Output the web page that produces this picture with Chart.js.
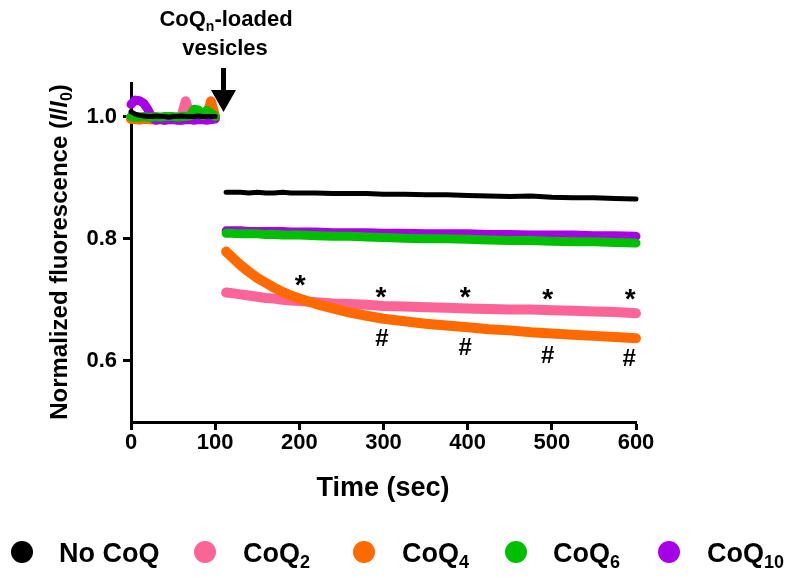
<!DOCTYPE html>
<html>
<head>
<meta charset="utf-8">
<script src="https://cdn.jsdelivr.net/npm/chart.js@4/dist/chart.umd.min.js"></script>
<style>
  html, body { margin:0; padding:0; background:#fff; }
  #wrap { width:800px; height:578px; }
</style>
</head>
<body>
<div id="wrap"><canvas id="c" width="800" height="578"></canvas></div>
<script>
// time points (sec)
const preT  = [0,5,10,15,20,25,30,35,40,45,50,55,60,65,70,75,80,85,90,95,100];
const postT = [113,120,130,140,150,160,170,180,190,200,220,240,260,280,300,325,350,375,400,425,450,475,500,525,550,575,600];

// normalized fluorescence before vesicle addition
const noCoqPre = [1.008,1.004,1.002,1.001,1.0,1.0,1.001,1.0,1.0,0.999,1.0,1.0,1.001,1.0,1.0,1.0,1.001,1.0,1.0,1.0,1.0];
const coq2Pre  = [0.998,0.998,0.999,0.998,0.998,0.999,0.998,0.998,0.999,0.998,0.998,0.999,1.0,1.025,1.0,0.998,0.998,0.999,0.998,0.998,0.998];
const coq4Pre  = [0.996,0.996,0.995,0.996,0.996,0.995,0.996,0.996,0.995,0.996,0.996,0.996,0.995,0.996,0.996,0.996,0.996,0.997,0.998,1.025,1.0];
const coq6Pre  = [1.0,0.999,0.999,1.0,0.999,0.999,1.0,0.999,1.0,1.0,1.0,0.999,1.0,1.0,1.001,1.012,1.011,1.002,1.01,1.006,1.0];
const coq10Pre = [1.02,1.027,1.026,1.022,1.012,0.998,0.994,0.995,0.994,0.995,0.995,0.994,0.994,0.995,0.995,0.994,0.995,0.995,0.994,0.995,0.996];

// after vesicle addition
const noCoqPost = [0.876,0.876,0.876,0.875,0.876,0.875,0.875,0.876,0.875,0.875,0.875,0.874,0.874,0.874,0.873,0.873,0.872,0.872,0.871,0.870,0.869,0.870,0.868,0.867,0.867,0.866,0.865];
const coq2Post  = [0.712,0.711,0.709,0.707,0.705,0.703,0.702,0.700,0.699,0.698,0.696,0.694,0.693,0.692,0.690,0.689,0.688,0.687,0.686,0.685,0.684,0.684,0.683,0.682,0.681,0.680,0.678];
const coq4Post  = [0.779,0.770,0.757,0.746,0.736,0.728,0.720,0.713,0.707,0.702,0.693,0.686,0.679,0.674,0.669,0.665,0.661,0.658,0.655,0.652,0.650,0.647,0.645,0.643,0.641,0.639,0.637];
const coq6Post  = [0.809,0.809,0.808,0.808,0.808,0.807,0.807,0.806,0.806,0.806,0.805,0.804,0.804,0.803,0.802,0.801,0.800,0.800,0.799,0.798,0.797,0.797,0.796,0.795,0.795,0.794,0.793];
const coq10Post = [0.813,0.813,0.813,0.812,0.812,0.812,0.812,0.812,0.811,0.811,0.811,0.810,0.810,0.810,0.809,0.809,0.808,0.808,0.808,0.807,0.807,0.806,0.806,0.806,0.805,0.805,0.804];

// significance marks
const starX = [201,297,397,495,593];
const starY = [0.730,0.710,0.711,0.707,0.707];
const hashX = [298,397,495,592];
const hashY = [0.636,0.620,0.607,0.603];

const xTicks = [0,100,200,300,400,500,600];
const yTicks = [0.6,0.8,1.0];

const FONT = "'Liberation Sans', Arial, sans-serif";
const COLORS = { noCoq:"#000000", coq2:"#fb6496", coq4:"#ff6a00", coq6:"#00bf00", coq10:"#a800e6" };

function series(pre, post){
  return preT.map((t,i)=>({x:t, y:pre[i]}))
    .concat([{x:106, y:null}])
    .concat(postT.map((t,i)=>({x:t, y:post[i]})));
}
function ds(label, pre, post, color, w){
  return { label, data:series(pre, post), borderColor:color, backgroundColor:color,
    borderWidth:w, pointRadius:0, tension:0, spanGaps:false,
    borderCapStyle:"round", borderJoinStyle:"round", clip:false };
}

const extras = {
  id:"extras",
  afterDatasetsDraw(chart){
    const ctx = chart.ctx, xs = chart.scales.x, ys = chart.scales.y;
    ctx.save();
    ctx.fillStyle = "#000";
    ctx.textAlign = "center";
    ctx.textBaseline = "middle";
    ctx.font = "bold 28px " + FONT;
    starX.forEach((x,i)=> ctx.fillText("*", xs.getPixelForValue(x), ys.getPixelForValue(starY[i]) + 5));
    ctx.font = "bold 24px " + FONT;
    hashX.forEach((x,i)=> ctx.fillText("#", xs.getPixelForValue(x), ys.getPixelForValue(hashY[i])));
    ctx.restore();
  },
  afterDraw(chart){
    const ctx = chart.ctx;
    ctx.save();
    ctx.fillStyle = "#000";
    ctx.textBaseline = "alphabetic";

    // draws a run of [text, font, dy] pieces starting at x
    const run = (parts, x, y) => {
      parts.forEach(p => { ctx.font = p[1]; ctx.fillText(p[0], x, y + (p[2]||0)); x += ctx.measureText(p[0]).width; });
    };
    const runWidth = parts => parts.reduce((s,p)=>{ ctx.font = p[1]; return s + ctx.measureText(p[0]).width; }, 0);
    ctx.textAlign = "left";

    // top annotation + arrow
    const b22 = "bold 22px " + FONT, b14 = "bold 14px " + FONT;
    const top1 = [["CoQ", b22], ["n", b14, 5], ["-loaded", b22]];
    run(top1, 226 - runWidth(top1)/2, 26);
    const top2 = [["vesicles", b22]];
    run(top2, 225 - runWidth(top2)/2, 55);
    ctx.fillRect(221, 68, 5, 26);
    ctx.beginPath();
    ctx.moveTo(211, 90); ctx.lineTo(236, 90); ctx.lineTo(223.5, 112); ctx.closePath(); ctx.fill();

    // x title
    ctx.font = "bold 27px " + FONT;
    ctx.textAlign = "center";
    ctx.fillText("Time (sec)", 383, 496);

    // y title
    ctx.textAlign = "left";
    ctx.save();
    ctx.translate(67, 252);
    ctx.rotate(-Math.PI/2);
    const b24 = "bold 24px " + FONT, i24 = "italic bold 24px " + FONT, b16 = "bold 16px " + FONT;
    const yt = [["Normalized fluorescence (", b24], ["I", i24], ["/", b24], ["I", i24], ["0", b16, 5], [")", b24]];
    run(yt, -runWidth(yt)/2, 0);
    ctx.restore();

    // legend
    const b27 = "bold 27px " + FONT, b18 = "bold 18px " + FONT;
    const items = [
      [22, COLORS.noCoq, 59, [["No CoQ", b27]]],
      [205, COLORS.coq2, 243, [["CoQ", b27], ["2", b18, 6]]],
      [364, COLORS.coq4, 402, [["CoQ", b27], ["4", b18, 6]]],
      [516, COLORS.coq6, 553, [["CoQ", b27], ["6", b18, 6]]],
      [669, COLORS.coq10, 707, [["CoQ", b27], ["10", b18, 6]]]
    ];
    items.forEach(it => {
      ctx.fillStyle = it[1];
      ctx.beginPath(); ctx.arc(it[0], 552, 11, 0, Math.PI*2); ctx.fill();
      ctx.fillStyle = "#000";
      run(it[3], it[2], 562);
    });
    ctx.restore();
  }
};

new Chart(document.getElementById("c"), {
  type:"line",
  data:{ datasets:[
    ds("No CoQ", noCoqPre, noCoqPost, COLORS.noCoq, 5),
    ds("CoQ6", coq6Pre, coq6Post, COLORS.coq6, 9),
    ds("CoQ10", coq10Pre, coq10Post, COLORS.coq10, 9),
    ds("CoQ4", coq4Pre, coq4Post, COLORS.coq4, 10),
    ds("CoQ2", coq2Pre, coq2Post, COLORS.coq2, 10)
  ]},
  options:{
    responsive:false, animation:false, devicePixelRatio:1,
    layout:{ padding:{ left:0, right:164, top:83, bottom:0 } },
    plugins:{ legend:{ display:false }, tooltip:{ enabled:false } },
    scales:{
      x:{ type:"linear", min:0, max:600,
        afterFit(s){ s.height = 156; },
        afterBuildTicks(s){ s.ticks = xTicks.map(v=>({value:v})); },
        grid:{ drawOnChartArea:false, drawTicks:true, tickLength:8, tickWidth:3, tickColor:"#000" },
        border:{ display:true, color:"#000", width:3 },
        ticks:{ color:"#000", padding:0, maxRotation:0, font:{ family:FONT, size:22, weight:"bold" } }
      },
      y:{ type:"linear", min:0.5, max:1.055,
        afterFit(s){ s.width = 131; },
        afterBuildTicks(s){ s.ticks = yTicks.map(v=>({value:v})); },
        grid:{ drawOnChartArea:false, drawTicks:true, tickLength:8, tickWidth:3, tickColor:"#000" },
        border:{ display:true, color:"#000", width:3 },
        ticks:{ color:"#000", padding:6, callback:v=>v.toFixed(1), font:{ family:FONT, size:22, weight:"bold" } }
      }
    }
  },
  plugins:[extras]
});
</script>
</body>
</html>
